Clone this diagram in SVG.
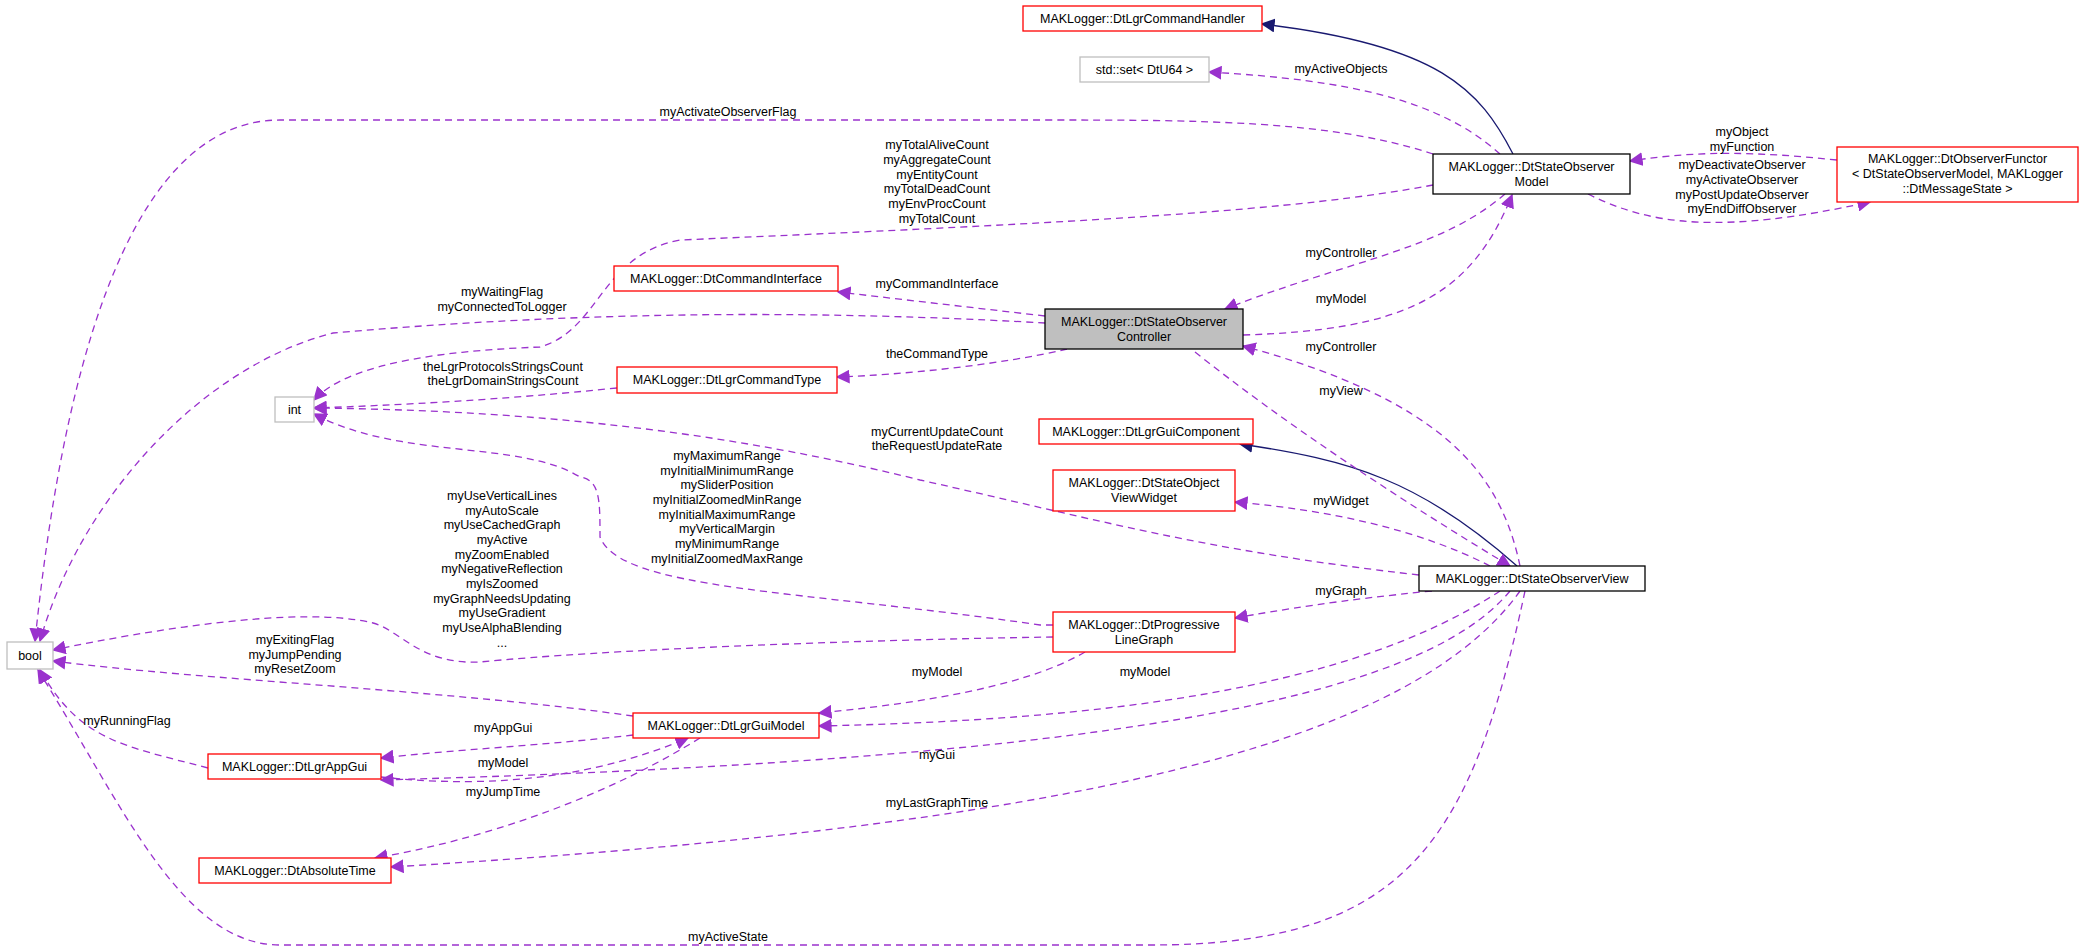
<svg xmlns="http://www.w3.org/2000/svg" width="2080" height="951" viewBox="0 0 2080 951">
<style>
text{font-family:"Liberation Sans",Arial,sans-serif;font-size:12.5px;fill:#000;text-anchor:middle}
.n{fill:#fff;stroke-width:1.3}
.r{stroke:#ff0000}.g{stroke:#bfbfbf}.k{stroke:#000}
.e{fill:none;stroke:#9a32cd;stroke-width:1.3;stroke-dasharray:7,5;marker-end:url(#ap)}
.i{fill:none;stroke:#191970;stroke-width:1.3;marker-end:url(#an)}
</style>
<defs>
<marker id="ap" viewBox="0 0 10 10" refX="9" refY="5" markerWidth="14" markerHeight="14" markerUnits="userSpaceOnUse" orient="auto"><path d="M0,0L10,5L0,10z" fill="#9a32cd"/></marker>
<marker id="an" viewBox="0 0 10 10" refX="9" refY="5" markerWidth="14" markerHeight="14" markerUnits="userSpaceOnUse" orient="auto"><path d="M0,0L10,5L0,10z" fill="#191970"/></marker>
</defs>
<rect width="2080" height="951" fill="#fff"/>
<g id="edges">
<path class="i" d="M1513,154C1480,90 1440,45 1262,24"/>
<path class="e" d="M1500,154C1440,100 1350,80 1209,72"/>
<path class="e" d="M1433,154C1330,120 1200,120 1040,120L280,120C120,120 60,400 35,641"/>
<path class="e" d="M1433,185C1300,210 1100,222 680,240C600,255 600,330 540,347C460,350 350,360 314,400"/>
<path class="e" d="M1045,316L838,292"/>
<path class="e" d="M1045,323C900,315 650,305 333,333C200,367 80,500 40,641"/>
<path class="e" d="M1067,349C1000,365 900,375 837,377"/>
<path class="e" d="M617,388C500,400 400,405 314,408"/>
<path class="e" d="M1419,575C1200,550 1100,520 920,480C700,425 500,410 314,408"/>
<path class="e" d="M1053,625L1040,625C800,590 620,590 600,537C600,500 600,480 580,477C520,440 400,460 314,414"/>
<path class="e" d="M1053,637C850,640 600,650 480,662C420,665 400,630 373,623C300,605 150,630 53,650"/>
<path class="e" d="M633,716C450,690 200,680 53,661"/>
<path class="e" d="M208,768C120,745 80,740 40,670"/>
<path class="e" d="M633,735C550,745 450,750 381,758"/>
<path class="e" d="M381,777C500,790 600,775 688,738"/>
<path class="e" d="M700,738C600,800 480,840 375,858"/>
<path class="e" d="M1085,652C1020,690 900,705 819,713"/>
<path class="e" d="M1500,591C1350,690 1100,720 819,726"/>
<path class="e" d="M1510,591C1420,700 1100,760 381,780"/>
<path class="e" d="M1520,591C1400,760 1000,830 391,867"/>
<path class="e" d="M1525,591C1470,850 1400,945 1150,945L280,945C180,945 120,800 38,670"/>
<path class="e" d="M1490,566C1420,530 1330,510 1235,502"/>
<path class="i" d="M1517,566C1420,480 1350,460 1240,444"/>
<path class="e" d="M1432,591C1340,600 1280,610 1235,618"/>
<path class="e" d="M1520,566C1500,470 1440,400 1243,346"/>
<path class="e" d="M1195,352C1280,420 1400,500 1510,566"/>
<path class="e" d="M1505,194C1440,250 1350,260 1225,309"/>
<path class="e" d="M1243,335C1400,330 1470,300 1512,195"/>
<path class="e" d="M1837,160C1760,152 1700,150 1630,161"/>
<path class="e" d="M1588,194C1650,225 1720,235 1870,202"/>
<text x="1341" y="73">myActiveObjects</text>
<text x="728" y="116">myActivateObserverFlag</text>
<text x="937" y="149">myTotalAliveCount</text>
<text x="937" y="164">myAggregateCount</text>
<text x="937" y="179">myEntityCount</text>
<text x="937" y="193">myTotalDeadCount</text>
<text x="937" y="208">myEnvProcCount</text>
<text x="937" y="223">myTotalCount</text>
<text x="937" y="288">myCommandInterface</text>
<text x="502" y="296">myWaitingFlag</text>
<text x="502" y="311">myConnectedToLogger</text>
<text x="937" y="358">theCommandType</text>
<text x="503" y="371">theLgrProtocolsStringsCount</text>
<text x="503" y="385">theLgrDomainStringsCount</text>
<text x="937" y="436">myCurrentUpdateCount</text>
<text x="937" y="450">theRequestUpdateRate</text>
<text x="727" y="460">myMaximumRange</text>
<text x="727" y="475">myInitialMinimumRange</text>
<text x="727" y="489">mySliderPosition</text>
<text x="727" y="504">myInitialZoomedMinRange</text>
<text x="727" y="519">myInitialMaximumRange</text>
<text x="727" y="533">myVerticalMargin</text>
<text x="727" y="548">myMinimumRange</text>
<text x="727" y="563">myInitialZoomedMaxRange</text>
<text x="502" y="500">myUseVerticalLines</text>
<text x="502" y="515">myAutoScale</text>
<text x="502" y="529">myUseCachedGraph</text>
<text x="502" y="544">myActive</text>
<text x="502" y="559">myZoomEnabled</text>
<text x="502" y="573">myNegativeReflection</text>
<text x="502" y="588">myIsZoomed</text>
<text x="502" y="603">myGraphNeedsUpdating</text>
<text x="502" y="617">myUseGradient</text>
<text x="502" y="632">myUseAlphaBlending</text>
<text x="502" y="647">...</text>
<text x="295" y="644">myExitingFlag</text>
<text x="295" y="659">myJumpPending</text>
<text x="295" y="673">myResetZoom</text>
<text x="127" y="725">myRunningFlag</text>
<text x="503" y="732">myAppGui</text>
<text x="503" y="767">myModel</text>
<text x="503" y="796">myJumpTime</text>
<text x="1145" y="676">myModel</text>
<text x="937" y="676">myModel</text>
<text x="937" y="759">myGui</text>
<text x="937" y="807">myLastGraphTime</text>
<text x="728" y="941">myActiveState</text>
<text x="1341" y="505">myWidget</text>
<text x="1341" y="595">myGraph</text>
<text x="1341" y="351">myController</text>
<text x="1341" y="395">myView</text>
<text x="1341" y="257">myController</text>
<text x="1341" y="303">myModel</text>
<text x="1742" y="136">myObject</text>
<text x="1742" y="151">myFunction</text>
<text x="1742" y="169">myDeactivateObserver</text>
<text x="1742" y="184">myActivateObserver</text>
<text x="1742" y="199">myPostUpdateObserver</text>
<text x="1742" y="213">myEndDiffObserver</text>
</g>
<g id="n_handler"><rect class="n r" x="1023" y="6" width="239" height="25"/><text x="1142.5" y="23">MAKLogger::DtLgrCommandHandler</text></g>
<g id="n_set"><rect class="n g" x="1080" y="57" width="129" height="25"/><text x="1144.5" y="74">std::set&lt; DtU64 &gt;</text></g>
<g id="n_model"><rect class="n k" x="1433" y="154" width="197" height="40"/><text x="1531.5" y="171">MAKLogger::DtStateObserver</text><text x="1531.5" y="186">Model</text></g>
<g id="n_functor"><rect class="n r" x="1837" y="147" width="241" height="55"/><text x="1957.5" y="163">MAKLogger::DtObserverFunctor</text><text x="1957.5" y="178">&lt; DtStateObserverModel, MAKLogger</text><text x="1957.5" y="193">::DtMessageState &gt;</text></g>
<g id="n_controller"><rect x="1045" y="309" width="198" height="40" fill="#bfbfbf" stroke="#000" stroke-width="1.3"/><text x="1144" y="326">MAKLogger::DtStateObserver</text><text x="1144" y="341">Controller</text></g>
<g id="n_guicomp"><rect class="n r" x="1039" y="419" width="214" height="25"/><text x="1146" y="436">MAKLogger::DtLgrGuiComponent</text></g>
<g id="n_widget"><rect class="n r" x="1053" y="470" width="182" height="41"/><text x="1144" y="487">MAKLogger::DtStateObject</text><text x="1144" y="502">ViewWidget</text></g>
<g id="n_view"><rect class="n k" x="1419" y="566" width="226" height="25"/><text x="1532" y="583">MAKLogger::DtStateObserverView</text></g>
<g id="n_plg"><rect class="n r" x="1053" y="612" width="182" height="40"/><text x="1144" y="629">MAKLogger::DtProgressive</text><text x="1144" y="644">LineGraph</text></g>
<g id="n_cmdif"><rect class="n r" x="614" y="266" width="224" height="25"/><text x="726" y="283">MAKLogger::DtCommandInterface</text></g>
<g id="n_cmdtype"><rect class="n r" x="617" y="367" width="220" height="26"/><text x="727" y="384">MAKLogger::DtLgrCommandType</text></g>
<g id="n_int"><rect class="n g" x="275" y="397" width="39" height="25"/><text x="294.5" y="414">int</text></g>
<g id="n_bool"><rect class="n g" x="7" y="642" width="46" height="27"/><text x="30" y="660">bool</text></g>
<g id="n_guimodel"><rect class="n r" x="633" y="713" width="186" height="25"/><text x="726" y="730">MAKLogger::DtLgrGuiModel</text></g>
<g id="n_appgui"><rect class="n r" x="208" y="754" width="173" height="25"/><text x="294.5" y="771">MAKLogger::DtLgrAppGui</text></g>
<g id="n_abstime"><rect class="n r" x="199" y="858" width="192" height="25"/><text x="295" y="875">MAKLogger::DtAbsoluteTime</text></g>
</svg>
